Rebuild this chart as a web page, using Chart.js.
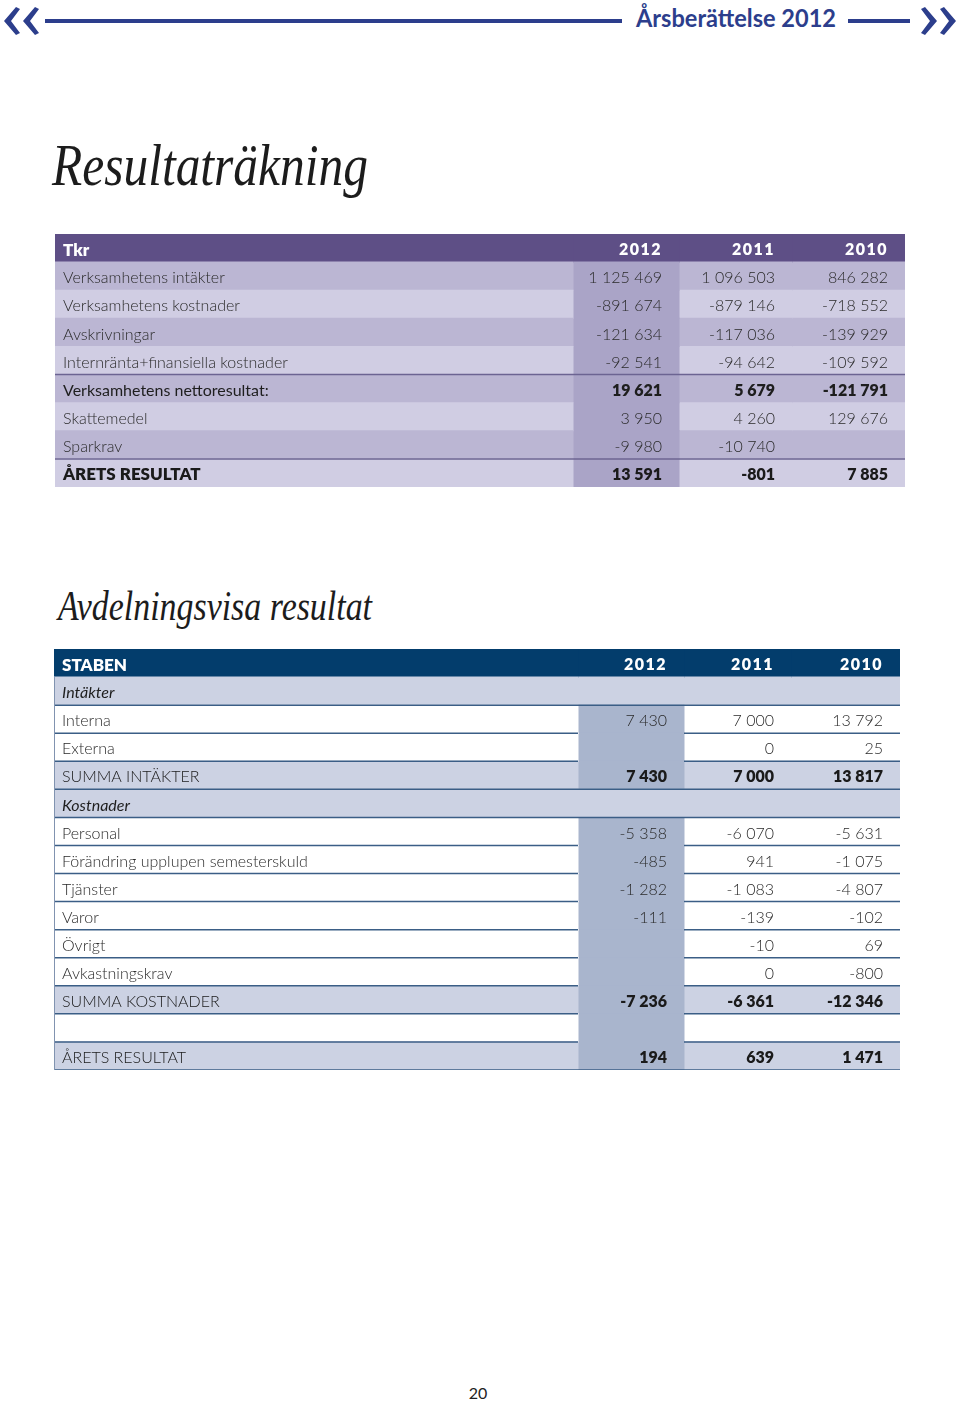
<!DOCTYPE html>
<html lang="sv">
<head>
<meta charset="utf-8">
<title>Resultaträkning</title>
<script src="https://cdn.jsdelivr.net/npm/chart.js@4.4.1/dist/chart.umd.min.js"></script>
<style>
  html, body { margin: 0; padding: 0; background: #fff; }
  body { width: 960px; height: 1402px; position: relative; overflow: hidden; font-family: Lato, "Open Sans", sans-serif; }
  svg, canvas { position: absolute; left: 0; top: 0; }
</style>
</head>
<body>
<svg width="960" height="1402">
  <g fill="#2c3e8c">
    <polygon points="4,21 16,7 20,9 11,21 20,33 16,35"/>
    <polygon points="23,21 35,7 39,9 30,21 39,33 35,35"/>
    <polygon points="956,21 944,7 940,9 949,21 940,33 944,35"/>
    <polygon points="937,21 925,7 921,9 930,21 921,33 925,35"/>
    <rect x="45" y="19" width="577" height="4"/>
    <rect x="848" y="19" width="62" height="4"/>
    <text x="636" y="27" font-family="Lato" font-weight="700" font-size="24" textLength="200" lengthAdjust="spacingAndGlyphs">Årsberättelse 2012</text>
  </g>
  <g fill="#1c1c1c" font-family="Liberation Serif" font-style="italic">
    <text x="52" y="185" font-size="60" textLength="316" lengthAdjust="spacingAndGlyphs">Resultaträkning</text>
    <text x="58" y="620" font-size="42" textLength="314" lengthAdjust="spacingAndGlyphs">Avdelningsvisa resultat</text>
  </g>
  <text x="478" y="1399" font-family="Lato" font-size="16" fill="#222" text-anchor="middle">20</text>
</svg>
<canvas id="resultat" width="850" height="253" style="left:55px;top:234px"></canvas>
<canvas id="staben" width="846" height="421" style="left:54px;top:649px"></canvas>
<script>
const years = ['2012', '2011', '2010'];

//RESULTATRÄKNING
const resRader = ['Verksamhetens intäkter', 'Verksamhetens kostnader', 'Avskrivningar',
  'Internränta+finansiella kostnader', 'Verksamhetens nettoresultat:', 'Skattemedel', 'Sparkrav', 'ÅRETS RESULTAT'];
const res2012 = [1125469, -891674, -121634, -92541, 19621, 3950, -9980, 13591];
const res2011 = [1096503, -879146, -117036, -94642, 5679, 4260, -10740, -801];
const res2010 = [846282, -718552, -139929, -109592, -121791, 129676, null, 7885];

//AVDELNINGSVISA RESULTAT
const stabRader = ['Intäkter', 'Interna', 'Externa', 'SUMMA INTÄKTER', 'Kostnader', 'Personal',
  'Förändring upplupen semesterskuld', 'Tjänster', 'Varor', 'Övrigt', 'Avkastningskrav', 'SUMMA KOSTNADER', '', 'ÅRETS RESULTAT'];
const stab2012 = [null, 7430, null, 7430, null, -5358, -485, -1282, -111, null, null, -7236, null, 194];
const stab2011 = [null, 7000, 0, 7000, null, -6070, 941, -1083, -139, -10, 0, -6361, null, 639];
const stab2010 = [null, 13792, 25, 13817, null, -5631, -1075, -4807, -102, 69, -800, -12346, null, 1471];

// radtyper, bara för stil
const resTyp = ['rad', 'rad', 'rad', 'rad', 'netto', 'rad', 'rad', 'total'];
const stabTyp = ['avsnitt', 'rad', 'rad', 'summa', 'avsnitt', 'rad', 'rad', 'rad', 'rad', 'rad', 'rad', 'summa', 'rad', 'summa'];

function kr(v) {
  if (typeof v === 'string') return v;
  const s = String(Math.abs(v)).replace(/\B(?=(\d{3})+(?!\d))/g, ' ');
  return (v < 0 ? '-' : '') + s;
}

const LATT = '300 16px Lato', FET = '800 16px Lato';

function ritaTabell(id, t) {
  const labels = [t.rubrik].concat(t.rader);
  const kolumner = [labels].concat(t.varden.map((v, i) => [years[i]].concat(v)));
  const bredd = t.kanter[4];

  const datasets = [0, 1, 2, 3].map(c => ({
    data: labels.map(() => [t.kanter[c], t.kanter[c + 1]]),
    backgroundColor: labels.map((_, r) => t.farg(r, c)),
    borderWidth: 0,
    grouped: false,
    barPercentage: 1,
    categoryPercentage: 1,
    inflateAmount: 0.5
  }));

  const text = {
    id: 'text',
    afterDatasetsDraw(chart) {
      const ctx = chart.ctx, x = chart.scales.x, y = chart.scales.y;
      const h = y.height / labels.length;
      ctx.save();

      ctx.strokeStyle = t.linjeFarg;
      ctx.lineWidth = t.linjeBredd;
      t.linjer(labels.length).forEach(([r, c0, c1]) => {
        const yb = y.getPixelForValue(r) + h / 2;
        ctx.beginPath();
        ctx.moveTo(x.getPixelForValue(t.kanter[c0]), yb);
        ctx.lineTo(x.getPixelForValue(t.kanter[c1]), yb);
        ctx.stroke();
      });
      if (t.vanster) {
        ctx.strokeStyle = t.vanster;
        ctx.lineWidth = 1;
        ctx.beginPath();
        ctx.moveTo(x.getPixelForValue(0) + 0.5, y.getPixelForValue(1) - h / 2);
        ctx.lineTo(x.getPixelForValue(0) + 0.5, y.getPixelForValue(labels.length - 1) + h / 2);
        ctx.stroke();
      }

      ctx.textBaseline = 'middle';
      labels.forEach((lab, r) => {
        const s = t.stil(r);
        const yc = y.getPixelForValue(r) + 2;
        ctx.fillStyle = s.farg;
        ctx.textAlign = 'left';
        ctx.letterSpacing = '0px';
        ctx.font = s.etikett;
        ctx.fillText(lab, x.getPixelForValue(0) + 8, yc);
        ctx.textAlign = 'right';
        ctx.font = s.varde;
        ctx.letterSpacing = r === 0 ? '1.5px' : '0px';
        for (let c = 1; c <= 3; c++) {
          const v = kolumner[c][r];
          if (v === null || v === undefined) continue;
          ctx.fillText(kr(v), x.getPixelForValue(t.kanter[c + 1]) - 17, yc);
        }
      });
      ctx.restore();
    }
  };

  new Chart(document.getElementById(id), {
    type: 'bar',
    data: { labels: labels, datasets: datasets },
    options: {
      responsive: false,
      animation: false,
      indexAxis: 'y',
      layout: { padding: 0 },
      plugins: { legend: { display: false }, tooltip: { enabled: false } },
      scales: {
        x: { type: 'linear', min: 0, max: bredd, display: false },
        y: { type: 'category', display: false }
      }
    },
    plugins: [text]
  });
}

ritaTabell('resultat', {
  rubrik: 'Tkr',
  rader: resRader,
  varden: [res2012, res2011, res2010],
  kanter: [0, 518, 624, 737, 850],
  farg(r, c) {
    if (r === 0) return '#5e4f86';
    if (c === 1) return '#aaa4c7';
    return r % 2 ? '#bbb6d3' : '#d0cde3';
  },
  linjeFarg: '#6c6492',
  linjeBredd: 1.5,
  linjer() { return [[4, 0, 4], [7, 0, 4]]; },
  stil(r) {
    if (r === 0) return { farg: '#ffffff', etikett: '800 17px Lato', varde: FET };
    const typ = resTyp[r - 1];
    if (typ === 'netto') return { farg: '#1e1e1e', etikett: '400 16px Lato', varde: FET };
    if (typ === 'total') return { farg: '#1a1a1a', etikett: '800 17px Lato', varde: FET };
    return { farg: '#2a2a2a', etikett: LATT, varde: LATT };
  }
});

ritaTabell('staben', {
  rubrik: 'STABEN',
  rader: stabRader,
  varden: [stab2012, stab2011, stab2010],
  kanter: [0, 524, 630, 737, 846],
  farg(r, c) {
    if (r === 0) return '#033d6c';
    const typ = stabTyp[r - 1];
    if (typ === 'avsnitt') return '#ccd2e3';
    if (c === 1) return '#a9b5cd';
    return typ === 'summa' ? '#ccd2e3' : '#ffffff';
  },
  linjeFarg: '#3b5e86',
  linjeBredd: 1.5,
  vanster: '#8193b0',
  linjer(n) {
    const ut = [];
    for (let r = 1; r < n; r++) {
      const sist = r === n - 1;
      const oppen = sist || stabTyp[r - 1] === 'avsnitt' || stabTyp[r] === 'avsnitt';
      if (oppen) ut.push([r, 0, 4]);
      else { ut.push([r, 0, 1]); ut.push([r, 2, 4]); }
    }
    return ut;
  },
  stil(r) {
    if (r === 0) return { farg: '#ffffff', etikett: '800 17px Lato', varde: FET };
    const typ = stabTyp[r - 1];
    if (typ === 'avsnitt') return { farg: '#1e1e1e', etikett: 'italic 400 16px Lato', varde: LATT };
    if (typ === 'summa') return { farg: '#1a1a1a', etikett: LATT, varde: FET };
    return { farg: '#2a2a2a', etikett: LATT, varde: LATT };
  }
});
</script>
</body>
</html>
